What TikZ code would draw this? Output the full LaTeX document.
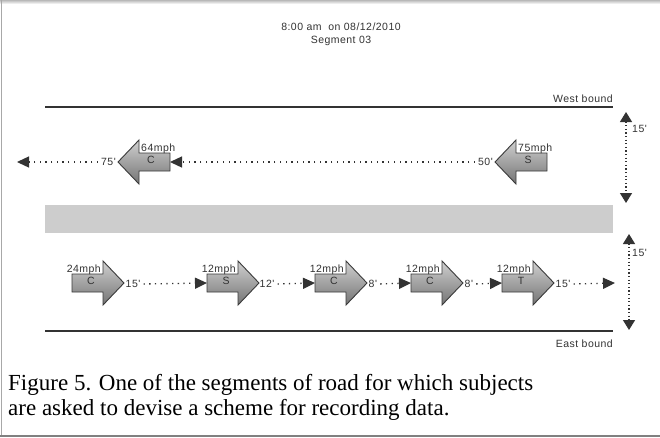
\documentclass[tikz,border=0pt]{standalone}
\usepackage{fontspec}
\setmainfont{Liberation Serif}
\newfontfamily\roadsans[LetterSpace=4.5]{Liberation Sans}
\usetikzlibrary{arrows.meta}

\definecolor{ink}{HTML}{333333}
\definecolor{vehtop}{HTML}{D0D0D0}
\definecolor{vehbot}{HTML}{747474}
\definecolor{vehline}{HTML}{3A3A3A}
\definecolor{mediangray}{HTML}{CDCDCD}
\definecolor{framegray}{HTML}{A8A8A8}
\definecolor{shadowgray}{HTML}{B8B8B8}

\tikzset{
  veh/.style={draw=vehline, line width=0.9pt, line join=miter,
              top color=vehtop, bottom color=vehbot},
  small/.style={font=\roadsans\fontsize{10.5}{12}\selectfont, inner sep=0pt, text=ink},
  vletter/.style={small},
  vspeed/.style={small},
  gap/.style={small},
  road/.style={draw=ink, line width=1.6pt},
  dotline/.style={draw=ink, line width=1.3pt, dash pattern=on 1.3pt off 4.4pt,
                  -{Triangle[length=12pt,width=11pt]}, shorten <=3pt},
  dimline/.style={draw=ink, line width=1.3pt, dash pattern=on 1.2pt off 2.4pt,
                  {Triangle[length=10pt,width=12pt]}-{Triangle[length=10pt,width=12pt]}},
  caption/.style={font=\fontsize{23}{25}\selectfont, inner sep=0pt, anchor=base west}
}

% eastbound vehicle: name, tail x, centre y, letter, speed
\newcommand\vehE[5]{%
  \path[veh] (#2,#3-9) -- (#2+31,#3-9) -- (#2+31,#3-22) -- (#2+52,#3)
    -- (#2+31,#3+22) -- (#2+31,#3+9) -- (#2,#3+9) -- cycle;
  \coordinate (#1-tail) at (#2,#3);
  \coordinate (#1-tip) at (#2+52,#3);
  \node[vletter] (#1) at (#2+19,#3-2) {#4};
  \node[vspeed, anchor=base east] (#1-spd) at (#2+29,#3-10.5) {#5};
}
% westbound vehicle: name, tip x, centre y, letter, speed
\newcommand\vehW[5]{%
  \path[veh] (#2,#3) -- (#2+21,#3-22) -- (#2+21,#3-9) -- (#2+52,#3-9)
    -- (#2+52,#3+9) -- (#2+21,#3+9) -- (#2+21,#3+22) -- cycle;
  \coordinate (#1-tip) at (#2,#3);
  \coordinate (#1-tail) at (#2+52,#3);
  \node[vletter] (#1) at (#2+33,#3-2) {#4};
  \node[vspeed, anchor=base west] (#1-spd) at (#2+23,#3-11) {#5};
}

\begin{document}
\begin{tikzpicture}[x=1pt, y=-1pt]
\useasboundingbox (0,0) rectangle (660,437);
\fill[white] (0,0) rectangle (660,437);

% page frame
\shade[top color=shadowgray, bottom color=white] (0,0) rectangle (660,4);
\draw[framegray, line width=1.5pt] (1.5,0) -- (1.5,437);
\draw[gray, line width=1.6pt] (0,436) -- (660,436);

% heading
\node[small, anchor=base] (when) at (341,30) {8:00 am\ \ on 08/12/2010};
\node[small, anchor=base] (seg) at (341,43.5) {Segment 03};

% road edges and median
\draw[road] (45,107) -- (613,107);
\draw[road] (45,331) -- (613,331);
\fill[mediangray] (45,205) rectangle (613,233);
\node[small, anchor=base east] (wb) at (613,102) {West bound};
\node[small, anchor=base east] (eb) at (613,347) {East bound};

% lane widths
\coordinate (wtop) at (626,112);
\coordinate (wbot) at (626,203);
\draw[dimline] (wtop) -- (wbot);
\node[small, anchor=west] (wwidth) at (632,129) {15'};
\coordinate (etop) at (629,234);
\coordinate (ebot) at (629,330);
\draw[dimline] (etop) -- (ebot);
\node[small, anchor=west] (ewidth) at (632,253) {15'};

% westbound traffic
\vehW{wc}{118}{162}{C}{64mph}
\vehW{ws}{495}{162}{S}{75mph}
\coordinate (wend) at (17,162);
\node[gap, anchor=east] (g75) at (116,162) {75'};
\node[gap, anchor=east] (g50) at (493,162) {50'};
\draw[dotline] (g75.west) -- (wend);
\draw[dotline] (g50.west) -- (wc-tail);

% eastbound traffic
\vehE{e1}{72}{283}{C}{24mph}
\vehE{e2}{207}{283}{S}{12mph}
\vehE{e3}{315}{283}{C}{12mph}
\vehE{e4}{411}{283}{C}{12mph}
\vehE{e5}{502}{283}{T}{12mph}
\coordinate (eend) at (615,283);
\node[gap, anchor=west] (g1) at (125.5,284) {15'};
\node[gap, anchor=west] (g2) at (259.5,284) {12'};
\node[gap, anchor=west] (g3) at (368.5,284) {8'};
\node[gap, anchor=west] (g4) at (464.5,284) {8'};
\node[gap, anchor=west] (g5) at (555.5,284) {15'};
\draw[dotline] (g1.east) -- (e2-tail);
\draw[dotline] (g2.east) -- (e3-tail);
\draw[dotline] (g3.east) -- (e4-tail);
\draw[dotline] (g4.east) -- (e5-tail);
\draw[dotline] (g5.east) -- (eend);

% caption
\node[caption] (cap1) at (8,390) {Figure 5. One of the segments of road for which subjects};
\node[caption] (cap2) at (8,415) {are asked to devise a scheme for recording data.};
\end{tikzpicture}
\end{document}
